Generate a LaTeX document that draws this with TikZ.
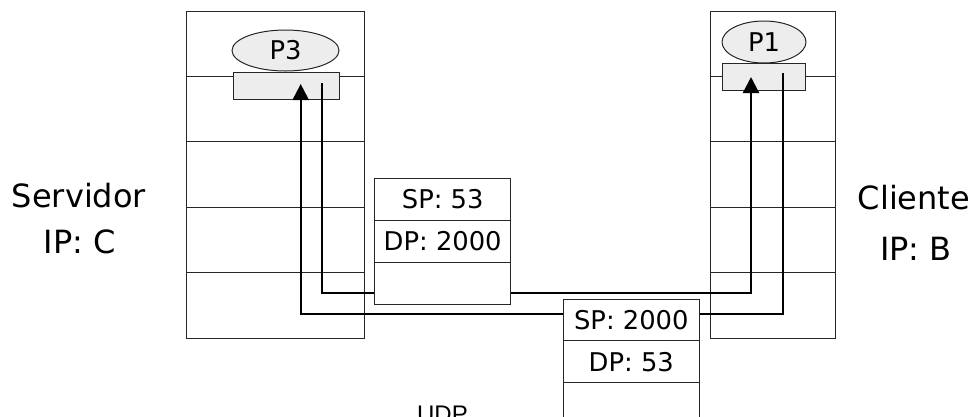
\documentclass[tikz,border=0pt]{standalone}
\usepackage{fontspec}
\setmainfont{DejaVu Sans}
\newfontfamily\udpfont{Liberation Sans}
\usetikzlibrary{arrows.meta,shapes.geometric}
\tikzset{
  box/.style={draw=black!85, line width=1pt, inner sep=0pt, outer sep=0pt},
  layerL/.style={box, minimum width=178pt, minimum height=65.4pt},
  layerR/.style={box, minimum width=125pt, minimum height=65.4pt},
  pkt/.style={box, fill=white, minimum width=136.5pt, minimum height=41.8pt,
              font=\fontsize{25.8}{30}\selectfont},
  sock/.style={box, fill=black!7, minimum height=27pt},
  proc/.style={box, ellipse, fill=black!7, font=\fontsize{25.8}{30}\selectfont},
  lbl/.style={anchor=base, inner sep=0pt, font=\fontsize{32}{36}\selectfont},
  conn/.style={line width=2.2pt, black, -{Triangle[length=16pt,width=16pt]}}
}
\begin{document}
\begin{tikzpicture}[x=1pt,y=-1pt]
\path[use as bounding box, clip] (0,0) rectangle (979,416);
% protocol stacks
\foreach \i/\yy in {1/43.7,2/109.1,3/174.5,4/239.9,5/305.3}{
  \node[layerL] (L\i) at (275,\yy) {};
  \node[layerR] (R\i) at (772.5,\yy) {};
}
% sockets and processes
\node[sock, minimum width=106pt] (sockL) at (286,85.5) {};
\node[sock, minimum width=83pt] (sockR) at (763.5,76.5) {};
\node[proc, minimum width=107pt, minimum height=41pt] (P3) at (285.5,50.5) {P3};
\node[proc, minimum width=84pt, minimum height=42pt] (P1) at (764,42) {P1};
% connectors
\coordinate (a0) at (322,83);
\coordinate (a1) at (751,77);
\coordinate (b0) at (783,73);
\coordinate (b1) at (300.7,84);
\draw[conn] (a0) -- ++(0,210) -| (a1);
\draw[conn] (b0) -- ++(0,240.7) -| (b1);
% packets
\node[pkt] (q1) at (442.7,199.5) {SP: 53};
\node[pkt, anchor=north] (q2) at (q1.south) {DP: 2000};
\node[pkt, anchor=north] (q3) at (q2.south) {};
\node[pkt] (r1) at (631.3,320) {SP: 2000};
\node[pkt, anchor=north] (r2) at (r1.south) {DP: 53};
\node[pkt, anchor=north] (r3) at (r2.south) {};
% labels
\node[lbl] (srv) at (79,207) {Servidor};
\node[lbl] (ipc) at (80,253) {IP: C};
\node[lbl] (cli) at (914,209) {Cliente};
\node[lbl] (ipb) at (916,260) {IP: B};
\node[anchor=base, inner sep=0pt, font=\udpfont\fontsize{24}{28}\selectfont] (udp) at (442.5,422) {UDP};
\end{tikzpicture}
\end{document}
